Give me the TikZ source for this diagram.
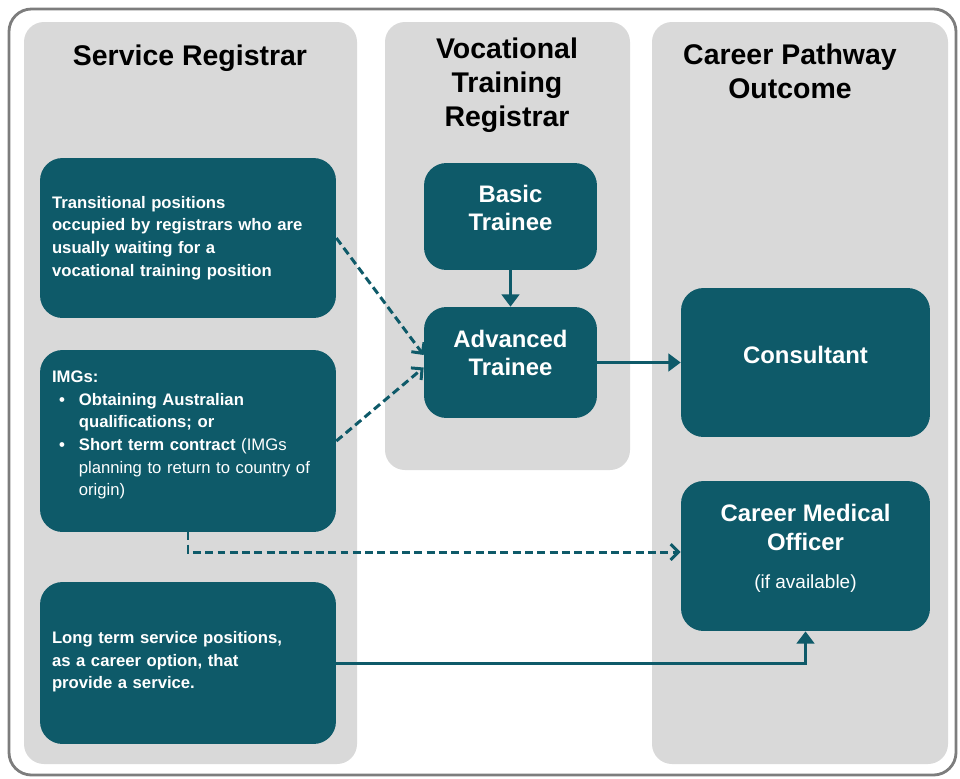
\documentclass[tikz,border=0pt]{standalone}
\usepackage{fontspec}
\setmainfont{Liberation Sans}
\usetikzlibrary{arrows.meta}
\definecolor{teal1}{RGB}{14,90,105}
\definecolor{panelgray}{RGB}{217,217,217}
\definecolor{framegray}{RGB}{125,125,125}
\tikzset{
  panel/.style={fill=panelgray, draw=none, rounded corners=0.4cm},
  ptitle/.style={font=\bfseries\fontsize{16.2}{19.3}\selectfont, align=center, text=black, inner sep=0pt},
  tbox/.style={fill=teal1, draw=none, rounded corners=0.45cm, inner sep=0pt},
  btext/.style={text=white, align=center, inner sep=0pt, font=\bfseries\fontsize{13.6}{16.4}\selectfont},
  ltext/.style={text=white, align=left, inner sep=0pt, text width=5.44cm,
    font=\bfseries\fontsize{9.5}{12.9}\selectfont},
  solidarrow/.style={draw=teal1, line width=1.7pt, -{Triangle[length=7pt,width=10pt]}},
  dasharrow/.style={draw=teal1, line width=1.7pt, dash pattern=on 4.5pt off 2.5pt,
    -{Straight Barb[length=4.5pt,width=9pt,line width=1.7pt]}}
}
\newcommand{\bul}{\makebox[15.3pt][l]{\hspace{4pt}\textbullet}}
\newcommand{\ind}{\hspace*{15.3pt}}
\begin{document}
\begin{tikzpicture}[x=0.02cm,y=-0.02cm]
\useasboundingbox (0,0) rectangle (960,778);
\fill[white] (0,0) rectangle (960,778);
% outer frame
\draw[framegray, line width=1.6pt, rounded corners=0.45cm] (9,9) rectangle (956,775);
% panels
\fill[panel] (24,22) rectangle (357,764);
\fill[panel] (385,22) rectangle (630,470);
\fill[panel] (652,22) rectangle (948,764);
% titles
\node[ptitle] (t1) at (190,58) {Service Registrar};
\node[ptitle] (t2) at (507,85) {Vocational\\Training\\Registrar};
\node[ptitle] (t3) at (790,71) {Career Pathway\\Outcome};
% left boxes
\node[tbox, minimum width=5.92cm, minimum height=3.2cm] (tr) at (188,238) {};
\node[ltext] (trx) at (188,238)
  {Transitional positions\\occupied by registrars who are\\usually waiting for a\\vocational training position};
\node[tbox, minimum width=5.92cm, minimum height=3.64cm] (img) at (188,441) {};
\node[ltext] (imgx) at (188,435)
  {IMGs:\\
   \bul Obtaining Australian\\
   \ind qualifications; or\\
   \bul Short term contract {\mdseries(IMGs}\\
   \ind{\mdseries planning to return to country of}\\
   \ind{\mdseries origin)}};
\node[tbox, minimum width=5.92cm, minimum height=3.24cm] (lt) at (188,663) {};
\node[ltext] (ltx) at (188,662)
  {Long term service positions,\\as a career option, that\\provide a service.};
% middle boxes
\node[tbox, minimum width=3.46cm, minimum height=2.14cm] (bt) at (510.5,216.5) {};
\node[btext] (btx) at (510.5,208) {Basic\\Trainee};
\node[tbox, minimum width=3.46cm, minimum height=2.22cm] (at) at (510.5,362.5) {};
\node[btext] (atx) at (510.5,353) {Advanced\\Trainee};
% right boxes
\node[tbox, minimum width=4.98cm, minimum height=2.98cm] (co) at (805.5,362.5) {};
\node[btext] (cox) at (805.5,355) {Consultant};
\node[tbox, minimum width=4.98cm, minimum height=3.0cm] (cmo) at (805.5,556) {};
\node[btext] (cmox) at (805.5,527.5) {Career Medical\\Officer};
\node[text=white, inner sep=0pt, font=\fontsize{10.8}{13}\selectfont] (cmoy) at (805.5,584) {(if available)};
% connectors
\draw[solidarrow] (bt) -- (at);
\draw[solidarrow] (at) -- (co);
\draw[dasharrow] (tr.east) -- ([yshift=0.15cm]at.west);
\draw[dasharrow] (img.east) -- ([yshift=-0.1cm]at.west);
\draw[dasharrow] (img.south) |- ([yshift=0.08cm]cmo.west);
\draw[solidarrow] (lt.east) -| (cmo.south);
\end{tikzpicture}
\end{document}
